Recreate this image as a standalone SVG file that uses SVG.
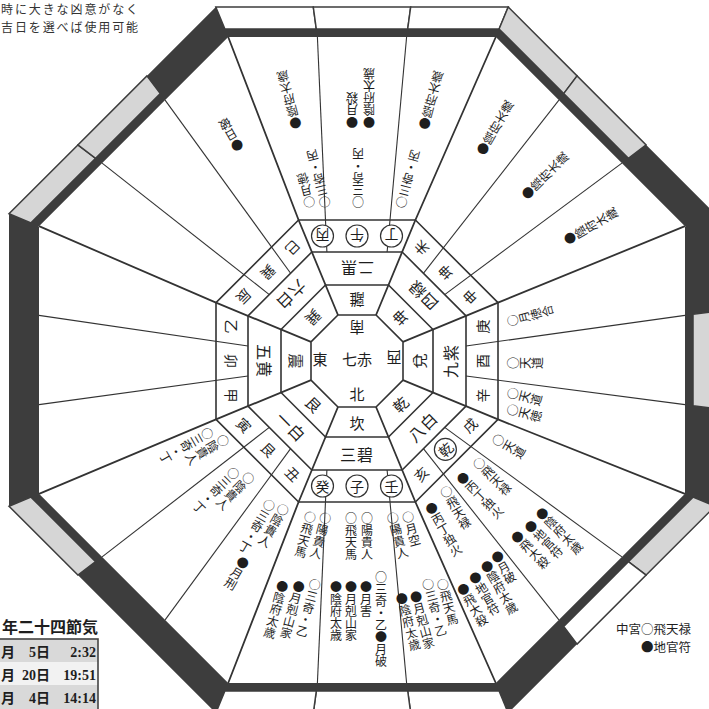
<svg xmlns="http://www.w3.org/2000/svg" width="709" height="709" viewBox="0 0 709 709">
<defs><style>
text{font-family:"Noto Sans CJK JP","Noto Sans CJK SC",sans-serif;fill:#1e1e1e}
.v{writing-mode:vertical-rl;font-size:12px}
.r1{font-size:15px;text-anchor:middle;dominant-baseline:central}
.r2{font-size:16px;text-anchor:middle;dominant-baseline:central;letter-spacing:1px}
.r3{font-size:14px;text-anchor:middle;dominant-baseline:central}
.ring{fill:none;stroke:#333;stroke-width:1.6}
.sl{stroke:#333;stroke-width:1.1;fill:none}
.cl{stroke:#333;stroke-width:1.8;fill:none}
.g{fill:#d6d6d6;stroke:#3d3d3d;stroke-width:1.5}
.w{fill:#fff;stroke:#3d3d3d;stroke-width:1.5}
.circ{fill:#fff;stroke:#333;stroke-width:1.2}
.note{font-size:12px;letter-spacing:1.9px;fill:#333}
.tb{font-family:"Liberation Serif","Noto Sans CJK JP",serif;font-weight:bold;font-size:14px}
.leg{font-size:12.5px}
</style></defs>
<rect width="709" height="709" fill="#fff"/>

<g id="frame">
<polygon points="215.8,7 508.2,7 715,213.8 715,506.2 508.2,713 215.8,713 9,506.2 9,213.8" fill="#3d3d3d"/>
<polygon points="228.2,37 495.8,37 685,226.2 685,493.8 495.8,683 228.2,683 39,493.8 39,226.2" fill="#fff"/>
<polygon class="w" points="224.9,29 316.3,29 313.3,7 215.8,7"/>
<polygon class="w" points="316.3,29 407.7,29 410.7,7 313.3,7"/>
<polygon class="w" points="407.7,29 499.1,29 508.2,7 410.7,7"/>
<polygon class="g" points="499.1,29 563.7,93.6 577.1,75.9 508.2,7"/>
<polygon class="g" points="563.7,93.6 628.4,158.3 646.1,144.9 577.1,75.9"/>
<polygon class="g" points="693,314.3 693,405.7 715,408.7 715,311.3"/>
<polygon class="g" points="693,497.1 628.4,561.7 646.1,575.1 715,506.2"/>
<polygon class="w" points="628.4,561.7 563.7,626.4 577.1,644.1 646.1,575.1"/>
<polygon class="w" points="499.1,691 407.7,691 410.7,713 508.2,713"/>
<polygon class="w" points="407.7,691 316.3,691 313.3,713 410.7,713"/>
<polygon class="w" points="316.3,691 224.9,691 215.8,713 313.3,713"/>
<polygon class="g" points="95.6,561.7 31,497.1 9,506.2 77.9,575.1"/>
<polygon class="g" points="31,222.9 95.6,158.3 77.9,144.9 9,213.8"/>
<polygon class="g" points="95.6,158.3 160.3,93.6 146.9,75.9 77.9,144.9"/>
</g>

<g id="rings">
<polygon class="ring" points="298.6,220 415.4,220 498,302.6 498,419.4 415.4,502 298.6,502 216,419.4 216,302.6" stroke-width="1.8"/>
<polygon class="ring" points="311.85,252 402.15,252 466,315.85 466,406.15 402.15,470 311.85,470 248,406.15 248,315.85"/>
<polygon class="ring" points="325.5,285 388.5,285 433,329.5 433,392.5 388.5,437 325.5,437 281,392.5 281,329.5"/>
<polygon class="ring" points="337.95,315 376.05,315 403,341.95 403,380.05 376.05,407 337.95,407 311,380.05 311,341.95" stroke-width="1.9"/>
</g>

<g id="connectors">
<line class="sl" x1="326.9" y1="252" x2="317.4" y2="37"/>
<line class="sl" x1="387.1" y1="252" x2="406.6" y2="37"/>
<line class="sl" x1="423.4" y1="273.3" x2="558.9" y2="100.1"/>
<line class="sl" x1="444.7" y1="294.6" x2="621.9" y2="163.1"/>
<line class="sl" x1="466" y1="345.95" x2="685" y2="315.4"/>
<line class="sl" x1="466" y1="376.05" x2="685" y2="404.6"/>
<line class="sl" x1="444.7" y1="427.4" x2="621.9" y2="556.9"/>
<line class="sl" x1="423.4" y1="448.7" x2="558.9" y2="619.9"/>
<line class="sl" x1="387.1" y1="470" x2="406.6" y2="683"/>
<line class="sl" x1="326.9" y1="470" x2="317.4" y2="683"/>
<line class="sl" x1="290.6" y1="448.7" x2="165.1" y2="619.9"/>
<line class="sl" x1="269.3" y1="427.4" x2="102.1" y2="556.9"/>
<line class="sl" x1="248" y1="376.05" x2="39" y2="404.6"/>
<line class="sl" x1="248" y1="345.95" x2="39" y2="315.4"/>
<line class="sl" x1="269.3" y1="294.6" x2="102.1" y2="163.1"/>
<line class="sl" x1="290.6" y1="273.3" x2="165.1" y2="100.1"/>
<polyline class="cl" points="337.95,315 298.6,220 228.2,37"/>
<polyline class="cl" points="376.05,315 415.4,220 495.8,37"/>
<polyline class="cl" points="403,341.95 498,302.6 685,226.2"/>
<polyline class="cl" points="403,380.05 498,419.4 685,493.8"/>
<polyline class="cl" points="376.05,407 415.4,502 495.8,683"/>
<polyline class="cl" points="337.95,407 298.6,502 228.2,683"/>
<polyline class="cl" points="311,380.05 216,419.4 39,493.8"/>
<polyline class="cl" points="311,341.95 216,302.6 39,226.2"/>
</g>

<g id="center">
<text x="357" y="358" class="r1" font-size="17">七赤</text>
<text class="r1" transform="translate(357 328) rotate(180)">南</text>
<text class="r1" x="357" y="393">北</text>
<text class="r1" x="320" y="358">東</text>
<text class="r1" transform="translate(394 358) rotate(180)">西</text>
</g>

<g id="ring1">
<text class="r1" transform="translate(357 361) rotate(0)" y="61">坎</text>
<text class="r1" transform="translate(357 361) rotate(45)" y="61">艮</text>
<text class="r1" transform="translate(357 361) rotate(90)" y="61">震</text>
<text class="r1" transform="translate(357 361) rotate(135)" y="61">巽</text>
<text class="r1" transform="translate(357 361) rotate(180)" y="61">離</text>
<text class="r1" transform="translate(357 361) rotate(225)" y="61">坤</text>
<text class="r1" transform="translate(357 361) rotate(270)" y="61">兌</text>
<text class="r1" transform="translate(357 361) rotate(315)" y="61">乾</text>
</g>

<g id="ring2">
<text class="r2" transform="translate(357 361) rotate(0)" y="92.5">三碧</text>
<text class="r2" transform="translate(357 361) rotate(45)" y="92.5">一白</text>
<text class="r2" transform="translate(357 361) rotate(90)" y="92.5">五黄</text>
<text class="r2" transform="translate(357 361) rotate(135)" y="92.5">六白</text>
<text class="r2" transform="translate(357 361) rotate(180)" y="92.5">二黒</text>
<text class="r2" transform="translate(357 361) rotate(225)" y="92.5">四緑</text>
<text class="r2" transform="translate(357 361) rotate(270)" y="92.5">九紫</text>
<text class="r2" transform="translate(357 361) rotate(315)" y="92.5">八白</text>
</g>

<g id="ring3">
<g transform="translate(357 361) rotate(0)">
<circle class="circ" cx="-34.5" cy="125" r="11"/><circle class="circ" cx="0" cy="125" r="11"/><circle class="circ" cx="34.5" cy="125" r="11"/>
<text class="r3" x="-34.5" y="125">癸</text><text class="r3" x="0" y="125">子</text><text class="r3" x="34.5" y="125">壬</text></g>
<g transform="translate(357 361) rotate(45)">
<text class="r3" x="-34.5" y="125">寅</text><text class="r3" x="0" y="125">艮</text><text class="r3" x="34.5" y="125">丑</text></g>
<g transform="translate(357 361) rotate(90)">
<text class="r3" x="-34.5" y="125">乙</text><text class="r3" x="0" y="125">卯</text><text class="r3" x="34.5" y="125">甲</text></g>
<g transform="translate(357 361) rotate(135)">
<text class="r3" x="-34.5" y="125">巳</text><text class="r3" x="0" y="125">巽</text><text class="r3" x="34.5" y="125">辰</text></g>
<g transform="translate(357 361) rotate(180)">
<circle class="circ" cx="-34.5" cy="125" r="11"/><circle class="circ" cx="0" cy="125" r="11"/><circle class="circ" cx="34.5" cy="125" r="11"/>
<text class="r3" x="-34.5" y="125">丁</text><text class="r3" x="0" y="125">午</text><text class="r3" x="34.5" y="125">丙</text></g>
<g transform="translate(357 361) rotate(225)">
<text class="r3" x="-34.5" y="125">申</text><text class="r3" x="0" y="125">坤</text><text class="r3" x="34.5" y="125">未</text></g>
<g transform="translate(357 361) rotate(270)">
<text class="r3" x="-34.5" y="125">辛</text><text class="r3" x="0" y="125">酉</text><text class="r3" x="34.5" y="125">庚</text></g>
<g transform="translate(357 361) rotate(315)">
<circle class="circ" cx="0" cy="125" r="11"/>
<text class="r3" x="-34.5" y="125">亥</text><text class="r3" x="0" y="125">乾</text><text class="r3" x="34.5" y="125">戌</text></g>
</g>

<g id="sec-ne">
<g id="s-tora" transform="translate(357 361) rotate(60)"><text class="v" x="2" y="150">○陰貴人</text><text class="v" x="-12" y="160">○三奇・丁</text></g>
<g id="s-gon" transform="translate(357 361) rotate(45)"><text class="v" x="6" y="154">○陰貴人</text><text class="v" x="-8" y="161">○三奇・丁</text></g>
<g id="s-ushi" transform="translate(357 361) rotate(30)"><text class="v" x="10" y="160">○陰貴人</text><text class="v" x="-4" y="163">○三奇・丁</text><text class="v" x="2" y="226">●月刑</text></g>
</g>
<g id="sec-n">
<g id="s-mizunoto" transform="translate(357 361) rotate(15)"><text class="v" x="10" y="154">○陽貴人</text><text class="v" x="-5" y="157">○飛天馬</text><text class="v" x="17" y="221">○三奇・乙</text><text class="v" x="2" y="227">●月剋山家</text><text class="v" x="-14" y="231">●陰府太歳</text></g>
<g id="s-ne" transform="translate(357 361) rotate(0)"><text class="v" x="10" y="151">○陽貴人</text><text class="v" x="-6" y="151">○飛天馬</text><text class="v" x="24" y="210">○三奇・乙●月破</text><text class="v" x="9" y="220">●月害</text><text class="v" x="-6" y="220">●月剋山家</text><text class="v" x="-21" y="220">●陰府太歳</text></g>
<g id="s-mizunoe" transform="translate(357 361) rotate(-15)"><text class="v" x="9" y="158">○月空</text><text class="v" x="-6" y="155">○陽貴人</text><text class="v" x="25" y="232">○飛天馬</text><text class="v" x="11" y="228">○三奇・乙</text><text class="v" x="-4" y="237">●月剋山家</text><text class="v" x="-18" y="235">●陰府太歳</text></g>
</g>
<g id="sec-nw">
<g id="s-i" transform="translate(357 361) rotate(-30)"><text class="v" x="12" y="152">○飛天禄</text><text class="v" x="-9" y="159">●丙丁独火</text><text class="v" x="24" y="234">●月破</text><text class="v" x="10" y="237">●陰府太歳</text><text class="v" x="-6" y="241">●地官符</text><text class="v" x="-22" y="245">●飛大殺</text></g>
<g id="s-ken" transform="translate(357 361) rotate(-45)"><text class="v" x="14" y="153">○飛天禄</text><text class="v" x="-8" y="152">●丙丁独火</text><text class="v" x="23" y="233">●陰府太歳</text><text class="v" x="6" y="234">●地官符</text><text class="v" x="-11" y="232">●飛大殺</text></g>
<g id="s-inu" transform="translate(357 361) rotate(-60)"><text class="v" x="2" y="156">○天道</text></g>
</g>
<g id="sec-w">
<g id="s-kanoto" transform="translate(357 361) rotate(-75)"><text class="v" x="9" y="153">○天道</text><text class="v" x="-7" y="157">○天徳</text></g>
<g id="s-tori" transform="translate(357 361) rotate(-90)"><text class="v" x="-2" y="150">○天道</text></g>
<g id="s-kanoe" transform="translate(357 361) rotate(-105)"><text class="v" x="-1" y="155">○月徳合</text></g>
</g>
<g id="sec-sw">
<g id="s-saru" transform="translate(357 361) rotate(-120)"><text class="v" x="0" y="240">●陰府太歳</text></g>
<g id="s-kon" transform="translate(357 361) rotate(-135)"><text class="v" x="-2" y="234">●陰府太歳</text></g>
<g id="s-hitsuji" transform="translate(357 361) rotate(-150)"><text class="v" x="-3" y="241">●陰府太歳</text></g>
</g>
<g id="sec-s">
<g id="s-hinoto" transform="translate(357 361) rotate(195)"><text class="v" x="-2" y="159">○三奇・丙</text><text class="v" x="-4" y="241">●陰府太歳</text></g>
<g id="s-uma" transform="translate(357 361) rotate(180)"><text class="v" x="-1" y="153">○三奇・丙</text><text class="v" x="5" y="233">●月殺</text><text class="v" x="-12" y="233">●陰府太歳</text></g>
<g id="s-hinoe" transform="translate(357 361) rotate(165)"><text class="v" x="5" y="160">○月徳</text><text class="v" x="-10" y="156">○三奇・丙</text><text class="v" x="-2" y="240">●陰府太歳</text></g>
</g>
<g id="sec-se">
<g id="s-mi" transform="translate(357 361) rotate(150)"><text class="v" x="-4" y="241">●日破</text></g>
</g>

<g id="note">
<text class="note" x="1" y="14">時に大きな凶意がなく</text>
<text class="note" x="1" y="32">吉日を選べば使用可能</text>
</g>

<g id="table">
<text x="98" y="633" text-anchor="end" font-size="16" font-weight="bold">年二十四節気</text>
<rect x="-2" y="639" width="100" height="23" fill="#d9d9d9"/>
<rect x="-2" y="662" width="100" height="23" fill="#f2f2f2"/>
<rect x="-2" y="685" width="100" height="26" fill="#d9d9d9"/>
<rect x="-2" y="639" width="100" height="72" fill="none" stroke="#444" stroke-width="1.6"/>
<text class="tb" x="1" y="657">月</text><text class="tb" x="50" y="657" text-anchor="end">5日</text><text class="tb" x="96" y="657" text-anchor="end">2:32</text>
<text class="tb" x="1" y="680">月</text><text class="tb" x="50" y="680" text-anchor="end">20日</text><text class="tb" x="96" y="680" text-anchor="end">19:51</text>
<text class="tb" x="1" y="703">月</text><text class="tb" x="50" y="703" text-anchor="end">4日</text><text class="tb" x="96" y="703" text-anchor="end">14:14</text>
</g>

<g id="legend">
<text class="leg" x="691" y="634" text-anchor="end">中宮○飛天禄</text>
<text class="leg" x="691" y="652" text-anchor="end">●地官符</text>
</g>
</svg>
